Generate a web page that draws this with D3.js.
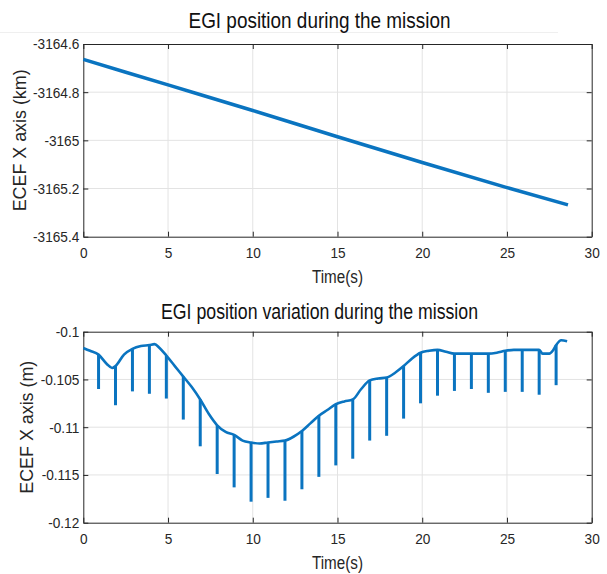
<!DOCTYPE html>
<html>
<head>
<meta charset="utf-8">
<script src="https://cdn.jsdelivr.net/npm/d3@7"></script>
<style>
  html, body { margin: 0; padding: 0; background: #fff; }
  svg { display: block; font-family: "Liberation Sans", Arial, sans-serif; }
</style>
</head>
<body>
<svg id="chart" width="607" height="574"></svg>
<script>
// ECEF X position of the EGI over the mission (km)
const posTime = [0, 5, 10, 15, 20, 25, 28.6];
const posKm = [-3164.664, -3164.770, -3164.876, -3164.985, -3165.092, -3165.196, -3165.268];
const posTicksX = [0, 5, 10, 15, 20, 25, 30];
const posTicksY = [-3164.6, -3164.8, -3165, -3165.2, -3165.4];
const posTickLabelsY = ["-3164.6", "-3164.8", "-3165", "-3165.2", "-3165.4"];

// ECEF X position variation (m)
const varTime = [0, 0.4, 0.9, 1.4, 1.7, 1.9, 2.4, 2.9, 3.4, 3.9, 4.2, 4.5, 4.9, 5.4, 5.9, 6.4, 6.9, 7.4, 7.9,
  8.4, 8.9, 9.4, 9.9, 10.4, 10.9, 11.4, 11.9, 12.4, 12.9, 13.4, 13.9, 14.4, 14.9, 15.4, 15.9, 16.4, 16.9,
  17.4, 17.9, 18.4, 18.9, 19.4, 19.9, 20.4, 20.9, 21.4, 21.9, 22.4, 22.9, 23.4, 23.9, 24.4, 24.9, 25.4,
  25.9, 26.4, 26.9, 27.1, 27.5, 27.7, 27.9, 28.2, 28.55];
const varM = [-0.1017, -0.1020, -0.1024, -0.1034, -0.1038, -0.1036, -0.1024, -0.1018, -0.1015, -0.1014,
  -0.1013, -0.1017, -0.1025, -0.1036, -0.1047, -0.1058, -0.1071, -0.1086, -0.1098, -0.1105, -0.1108,
  -0.1114, -0.1116, -0.1117, -0.1116, -0.1115, -0.1114, -0.1110, -0.1104, -0.1096, -0.1088, -0.1082,
  -0.1076, -0.1073, -0.1071, -0.1060, -0.1051, -0.1049, -0.1048, -0.1043, -0.1036, -0.1028, -0.1022,
  -0.1020, -0.1019, -0.1021, -0.1023, -0.1023, -0.1023, -0.1023, -0.1023, -0.1022, -0.1020, -0.1019,
  -0.1019, -0.1019, -0.1019, -0.1023, -0.1023, -0.1020, -0.1014, -0.1009, -0.1010];
const stemTime = [0.9, 1.9, 2.9, 3.9, 4.9, 5.9, 6.9, 7.9, 8.9, 9.9, 10.9, 11.9, 12.9, 13.9, 14.9,
  15.9, 16.9, 17.9, 18.9, 19.9, 20.9, 21.9, 22.9, 23.9, 24.9, 25.9, 26.9, 27.9];
const stemLow = [-0.1060, -0.1077, -0.10625, -0.1065, -0.1070, -0.1092, -0.1120, -0.1149, -0.1163,
  -0.1178, -0.1174, -0.1177, -0.1165, -0.1152, -0.1140, -0.1133, -0.1114, -0.1109, -0.1091, -0.1075,
  -0.1067, -0.1062, -0.1060, -0.1064, -0.1063, -0.1063, -0.1066, -0.1056];
const varTicksX = [0, 5, 10, 15, 20, 25, 30];
const varTicksY = [-0.1, -0.105, -0.11, -0.115, -0.12];
const varTickLabelsY = ["-0.1", "-0.105", "-0.11", "-0.115", "-0.12"];

const BLUE = "#0a74c0";
const AXIS = "#262626";
const GRID = "#e3e3e3";

const svg = d3.select("#chart");
svg.append("rect").attr("width", 607).attr("height", 574).attr("fill", "#fff");

// faint rule under the upper title
svg.append("line").attr("x1", 0).attr("x2", 558).attr("y1", 32.5).attr("y2", 32.5)
  .attr("stroke", "#efefef").attr("stroke-width", 1);

// squeeze a text element horizontally to a narrower face
function narrow(sel, k) {
  sel.each(function () {
    const w = this.getComputedTextLength();
    d3.select(this).attr("textLength", w * k).attr("lengthAdjust", "spacingAndGlyphs");
  });
}

function panel(opt) {
  const { left, right, top, bottom } = opt.box;
  const x = d3.scaleLinear().domain([0, 30]).range([left, right]);
  const y = d3.scaleLinear().domain(opt.yDomain).range([bottom, top]);
  const g = svg.append("g");

  // grid
  g.append("g").selectAll("line").data(opt.ticksX.slice(1, -1)).join("line")
    .attr("x1", d => x(d)).attr("x2", d => x(d)).attr("y1", top).attr("y2", bottom)
    .attr("stroke", GRID).attr("stroke-width", 1);
  g.append("g").selectAll("line").data(opt.ticksY.slice(1, -1)).join("line")
    .attr("x1", left).attr("x2", right).attr("y1", d => y(d)).attr("y2", d => y(d))
    .attr("stroke", GRID).attr("stroke-width", 1);

  // axes with inward ticks on all four sides
  const fmtY = d => opt.labelsY[opt.ticksY.indexOf(d)];
  const axB = g.append("g").attr("transform", `translate(0,${bottom})`)
    .call(d3.axisBottom(x).tickValues(opt.ticksX).tickSizeInner(-5).tickSizeOuter(0).tickPadding(10));
  const axL = g.append("g").attr("transform", `translate(${left},0)`)
    .call(d3.axisLeft(y).tickValues(opt.ticksY).tickFormat(fmtY).tickSizeInner(-5).tickSizeOuter(0).tickPadding(4));
  const axT = g.append("g").attr("transform", `translate(0,${top})`)
    .call(d3.axisTop(x).tickValues(opt.ticksX).tickSizeInner(-5).tickSizeOuter(0).tickFormat(""));
  const axR = g.append("g").attr("transform", `translate(${right},0)`)
    .call(d3.axisRight(y).tickValues(opt.ticksY).tickSizeInner(-5).tickSizeOuter(0).tickFormat(""));
  [axB, axL, axT, axR].forEach(a => {
    a.select(".domain").attr("stroke", AXIS).attr("stroke-width", 1);
    a.selectAll(".tick line").attr("stroke", AXIS).attr("stroke-width", 1);
    a.selectAll(".tick text").attr("fill", AXIS).style("font-size", "15.5px")
      .style("font-family", "'Liberation Sans', Arial, sans-serif");
  });
  [axB, axL].forEach(a => narrow(a.selectAll(".tick text"), 0.88));

  // titles and labels
  svg.append("text").attr("x", 319.5).attr("y", opt.titleY).attr("text-anchor", "middle")
    .attr("textLength", opt.titleLen).attr("lengthAdjust", "spacingAndGlyphs")
    .style("font-size", "22px").attr("fill", "#111").text(opt.title);
  svg.append("text").attr("x", (left + right) / 2).attr("y", bottom + 46).attr("text-anchor", "middle")
    .attr("textLength", 51).attr("lengthAdjust", "spacingAndGlyphs")
    .style("font-size", "17.5px").attr("fill", AXIS).text("Time(s)");
  svg.append("text").attr("transform", `translate(${opt.yLabelX},${(top + bottom) / 2}) rotate(-90)`)
    .attr("dy", "0.35em").attr("text-anchor", "middle")
    .attr("textLength", opt.yLabelLen).attr("lengthAdjust", "spacingAndGlyphs")
    .style("font-size", "17.5px").attr("fill", AXIS).text(opt.yLabel);

  return { x, y, g };
}

// upper panel: absolute position
const p1 = panel({
  box: { left: 83.3, right: 591.7, top: 44, bottom: 236.7 },
  yDomain: [-3165.4, -3164.6], ticksX: posTicksX, ticksY: posTicksY, labelsY: posTickLabelsY,
  title: "EGI position during the mission", titleY: 28, titleLen: 262,
  yLabel: "ECEF X axis (km)", yLabelX: 20, yLabelLen: 142
});
p1.g.append("path")
  .datum(posTime.map((t, i) => [t, posKm[i]]))
  .attr("fill", "none").attr("stroke", BLUE).attr("stroke-width", 3.5)
  .attr("d", d3.line().x(d => p1.x(d[0])).y(d => p1.y(d[1])).curve(d3.curveMonotoneX));

// lower panel: position variation with stems
const p2 = panel({
  box: { left: 83.3, right: 591.7, top: 331.7, bottom: 522.7 },
  yDomain: [-0.12, -0.1], ticksX: varTicksX, ticksY: varTicksY, labelsY: varTickLabelsY,
  title: "EGI position variation during the mission", titleY: 319, titleLen: 317,
  yLabel: "ECEF X axis (m)", yLabelX: 26.5, yLabelLen: 133
});
const varAt = new Map(varTime.map((t, i) => [t, varM[i]]));
p2.g.append("g").selectAll("line").data(stemTime).join("line")
  .attr("x1", d => p2.x(d)).attr("x2", d => p2.x(d))
  .attr("y1", d => p2.y(varAt.get(d))).attr("y2", (d, i) => p2.y(stemLow[i]))
  .attr("stroke", BLUE).attr("stroke-width", 3);
p2.g.append("path")
  .datum(varTime.map((t, i) => [t, varM[i]]))
  .attr("fill", "none").attr("stroke", BLUE).attr("stroke-width", 2.6).attr("stroke-linejoin", "round")
  .attr("d", d3.line().x(d => p2.x(d[0])).y(d => p2.y(d[1])).curve(d3.curveMonotoneX));
</script>
</body>
</html>
